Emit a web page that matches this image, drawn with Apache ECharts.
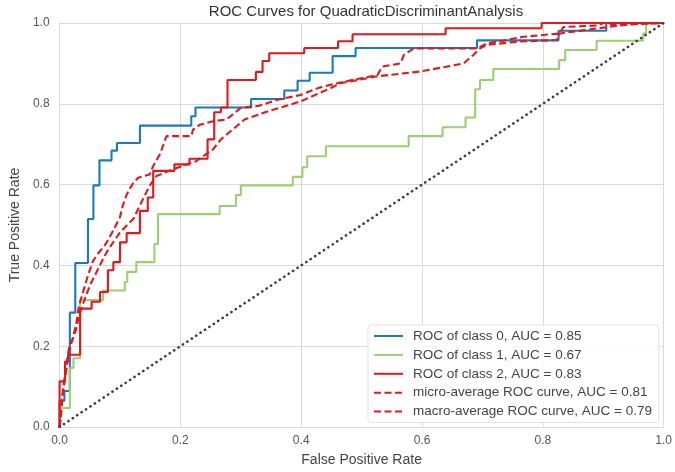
<!DOCTYPE html>
<html>
<head>
<meta charset="utf-8">
<script src="https://cdn.jsdelivr.net/npm/echarts@6/dist/echarts.min.js"></script>
<style>
html,body{margin:0;padding:0;background:#fff;overflow:hidden;}
#chart{width:675px;height:472px;}
</style>
</head>
<body>
<div id="chart"></div>
<script>
// ---- data (FPR, TPR pairs) ----
const class0Roc = [[0,0],[0,0.065],[0.008,0.065],[0.008,0.089],[0.017,0.089],[0.017,0.283],[0.026,0.283],[0.026,0.406],[0.047,0.406],[0.047,0.515],[0.056,0.515],[0.056,0.598],[0.066,0.598],[0.066,0.660],[0.086,0.660],[0.086,0.684],[0.095,0.684],[0.095,0.703],[0.133,0.703],[0.133,0.746],[0.218,0.746],[0.218,0.769],[0.225,0.769],[0.225,0.791],[0.317,0.791],[0.317,0.812],[0.372,0.812],[0.372,0.833],[0.394,0.833],[0.394,0.857],[0.414,0.857],[0.414,0.877],[0.452,0.877],[0.452,0.918],[0.490,0.918],[0.490,0.938],[0.691,0.938],[0.691,0.957],[0.826,0.957],[0.826,0.981],[0.905,0.981],[0.905,1],[1,1]];

const class1Roc = [[0,0],[0,0.047],[0.017,0.047],[0.017,0.146],[0.023,0.146],[0.023,0.170],[0.034,0.170],[0.034,0.314],[0.072,0.314],[0.072,0.338],[0.108,0.338],[0.108,0.359],[0.112,0.359],[0.112,0.384],[0.127,0.384],[0.127,0.408],[0.157,0.408],[0.157,0.453],[0.163,0.453],[0.163,0.527],[0.265,0.527],[0.265,0.547],[0.292,0.547],[0.292,0.574],[0.300,0.574],[0.300,0.598],[0.386,0.598],[0.386,0.619],[0.402,0.619],[0.402,0.643],[0.410,0.643],[0.410,0.670],[0.441,0.670],[0.441,0.695],[0.578,0.695],[0.578,0.720],[0.634,0.720],[0.634,0.742],[0.672,0.742],[0.672,0.766],[0.688,0.766],[0.688,0.836],[0.696,0.836],[0.696,0.859],[0.718,0.859],[0.718,0.886],[0.827,0.886],[0.827,0.908],[0.837,0.908],[0.837,0.933],[0.889,0.933],[0.889,0.956],[0.966,0.956],[0.966,0.974],[0.971,0.974],[0.971,0.997],[0.974,0.997],[0.974,1],[1,1]];

const class2Roc = [[0,0],[0,0.113],[0.009,0.113],[0.009,0.162],[0.014,0.162],[0.014,0.179],[0.034,0.179],[0.034,0.293],[0.053,0.293],[0.053,0.310],[0.067,0.310],[0.067,0.334],[0.080,0.334],[0.080,0.388],[0.089,0.388],[0.089,0.408],[0.100,0.408],[0.100,0.457],[0.111,0.457],[0.111,0.480],[0.133,0.480],[0.133,0.535],[0.146,0.535],[0.146,0.568],[0.155,0.568],[0.155,0.634],[0.190,0.634],[0.190,0.650],[0.215,0.650],[0.215,0.664],[0.245,0.664],[0.245,0.712],[0.256,0.712],[0.256,0.779],[0.267,0.779],[0.267,0.791],[0.278,0.791],[0.278,0.859],[0.325,0.859],[0.325,0.879],[0.336,0.879],[0.336,0.906],[0.347,0.906],[0.347,0.925],[0.405,0.925],[0.405,0.938],[0.461,0.938],[0.461,0.955],[0.485,0.955],[0.485,0.972],[0.639,0.972],[0.639,0.987],[0.798,0.987],[0.798,1],[1,1]];

const microRoc = [[0,0],[0.002,0.02],[0.004,0.07],[0.008,0.12],[0.012,0.16],[0.016,0.20],[0.022,0.22],[0.028,0.26],[0.032,0.30],[0.040,0.34],[0.047,0.375],[0.055,0.41],[0.064,0.43],[0.075,0.45],[0.083,0.47],[0.090,0.49],[0.100,0.52],[0.105,0.55],[0.111,0.575],[0.122,0.605],[0.130,0.617],[0.149,0.625],[0.155,0.646],[0.166,0.675],[0.177,0.720],[0.218,0.720],[0.221,0.736],[0.232,0.748],[0.254,0.757],[0.276,0.761],[0.300,0.790],[0.330,0.795],[0.361,0.810],[0.399,0.822],[0.430,0.840],[0.460,0.851],[0.471,0.855],[0.526,0.871],[0.534,0.892],[0.564,0.900],[0.570,0.921],[0.586,0.937],[0.691,0.937],[0.707,0.949],[0.768,0.966],[0.828,0.974],[0.834,0.990],[0.892,0.994],[0.900,1.0],[0.910,1.0],[0.915,0.995],[1,1]];

const macroRoc = [[0,0],[0.002,0.03],[0.005,0.08],[0.010,0.13],[0.015,0.18],[0.020,0.21],[0.027,0.24],[0.033,0.28],[0.040,0.31],[0.050,0.35],[0.060,0.38],[0.070,0.41],[0.078,0.433],[0.090,0.46],[0.100,0.482],[0.122,0.515],[0.138,0.564],[0.149,0.597],[0.160,0.621],[0.188,0.638],[0.226,0.658],[0.254,0.687],[0.267,0.712],[0.306,0.761],[0.344,0.781],[0.399,0.806],[0.449,0.839],[0.465,0.851],[0.526,0.868],[0.597,0.880],[0.630,0.889],[0.669,0.900],[0.685,0.921],[0.696,0.937],[0.707,0.946],[0.762,0.954],[0.823,0.958],[0.828,0.974],[0.872,0.983],[0.927,0.994],[0.971,1.0],[1,1]];

const chanceLine = [[0,0],[1,1]];

const seriesNames = ['ROC of class 0, AUC = 0.85','ROC of class 1, AUC = 0.67','ROC of class 2, AUC = 0.83','micro-average ROC curve, AUC = 0.81','macro-average ROC curve, AUC = 0.79'];
const axisTicks = [0, 0.2, 0.4, 0.6, 0.8, 1.0];

const FONT = 'Liberation Sans, Arial, sans-serif';
const chart = echarts.init(document.getElementById('chart'), null, {renderer:'canvas'});

function lineSeries(name, data, color, dashed) {
  return {
    name: name, type: 'line', data: data, symbol: 'none', showSymbol: false,
    animation: false,
    lineStyle: {color: color, width: 2.1, type: dashed ? [7, 3.5] : 'solid'},
    itemStyle: {color: color}
  };
}

const gridColor = '#d9d9d9';
const axisCommon = {
  type: 'value', min: 0, max: 1, interval: 0.2,
  axisLine: {show: true, lineStyle: {color: gridColor, width: 1}},
  axisTick: {show: false},
  splitLine: {show: true, lineStyle: {color: gridColor, width: 1}},
  axisLabel: {color: '#555', fontSize: 12, fontFamily: FONT,
    formatter: v => axisTicks.find(t => Math.abs(t - v) < 1e-9).toFixed(1)},
  nameLocation: 'middle',
  nameTextStyle: {color: '#444', fontSize: 14, fontFamily: FONT}
};

chart.setOption({
  backgroundColor: '#fff',
  animation: false,
  title: {
    text: 'ROC Curves for QuadraticDiscriminantAnalysis',
    left: 361, top: -1, textAlign: 'center',
    textStyle: {color: '#333', fontSize: 15, fontWeight: 'normal', fontFamily: FONT}
  },
  grid: {left: 58, right: 11, top: 23, bottom: 40, containLabel: false},
  xAxis: Object.assign({}, axisCommon, {name: 'False Positive Rate', nameGap: 26,
    axisLabel: Object.assign({}, axisCommon.axisLabel, {margin: 8})}),
  yAxis: Object.assign({}, axisCommon, {name: 'True Positive Rate', nameGap: 37,
    axisLabel: Object.assign({}, axisCommon.axisLabel, {margin: 10})}),
  legend: {
    data: seriesNames,
    orient: 'vertical', left: 368, top: 325,
    padding: [4, 7, 4, 5],
    itemWidth: 29, itemHeight: 14, itemGap: 4.9,
    itemStyle: {color: 'transparent', borderWidth: 0, opacity: 0},
    backgroundColor: 'rgba(255,255,255,0.85)',
    borderColor: '#e2e2e2', borderWidth: 1, borderRadius: 3,
    textStyle: {color: '#444', fontSize: 13.5, fontFamily: FONT, padding: [0,0,0,5]}
  },
  series: [
    lineSeries(seriesNames[0], class0Roc, '#1b7bb8', false),
    lineSeries(seriesNames[1], class1Roc, '#9dcf72', false),
    lineSeries(seriesNames[2], class2Roc, '#e0191c', false),
    lineSeries(seriesNames[3], microRoc, '#e0191c', true),
    lineSeries(seriesNames[4], macroRoc, '#e0191c', true),
    {
      name: 'chance', type: 'line', data: chanceLine, symbol: 'none',
      lineStyle: {color: '#3a3a3a', width: 2.6, type: [0.1, 5.2], cap: 'round'},
      silent: true
    }
  ]
});
</script>
</body>
</html>
